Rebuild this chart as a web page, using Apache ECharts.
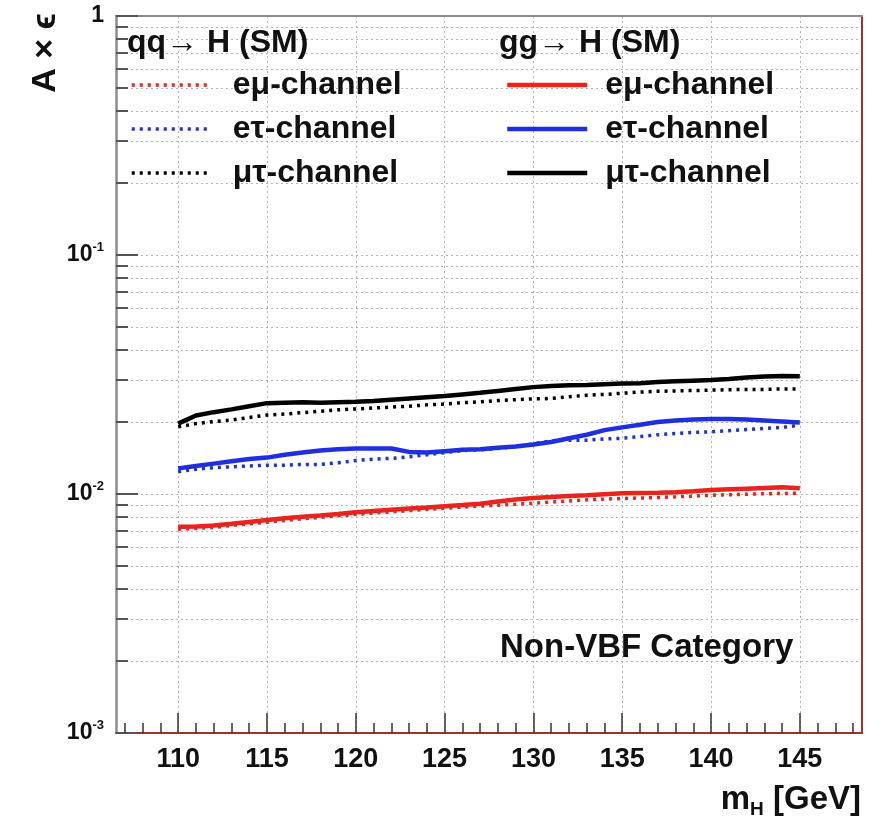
<!DOCTYPE html>
<html>
<head>
<meta charset="utf-8">
<script src="https://cdn.jsdelivr.net/npm/echarts@6/dist/echarts.min.js"></script>
<style>
  html, body { margin: 0; padding: 0; background: #ffffff; }
  #chart { width: 880px; height: 822px; }
</style>
</head>
<body>
<div id="chart"></div>
<script>
// Higgs mass points (GeV)
const massPoints = [110, 111, 112, 113, 114, 115, 116, 117, 118, 119,
                    120, 121, 122, 123, 124, 125, 126, 127, 128, 129,
                    130, 131, 132, 133, 134, 135, 136, 137, 138, 139,
                    140, 141, 142, 143, 144, 145];

// Acceptance x efficiency, qq -> H (SM)
const qqEMu = [0.00712, 0.00718, 0.00725, 0.00738, 0.00750, 0.00762, 0.00775, 0.00787, 0.00798, 0.00810,
               0.00822, 0.00832, 0.00842, 0.00852, 0.00862, 0.00872, 0.00882, 0.00890, 0.00898, 0.00906,
               0.00914, 0.00925, 0.00935, 0.00945, 0.00952, 0.00958, 0.00962, 0.00967, 0.00973, 0.00980,
               0.00988, 0.00993, 0.00998, 0.01002, 0.01005, 0.01007];
const qqETau = [0.0124, 0.0127, 0.0129, 0.0130, 0.0131, 0.0132, 0.0132, 0.0133, 0.0133, 0.0135,
                0.0138, 0.0140, 0.0141, 0.0143, 0.0146, 0.0149, 0.0152, 0.0153, 0.0155, 0.0158,
                0.0162, 0.0167, 0.0168, 0.0168, 0.0170, 0.0171, 0.0174, 0.0177, 0.0179, 0.0181,
                0.0182, 0.0184, 0.0186, 0.0188, 0.0190, 0.0194];
const qqMuTau = [0.0191, 0.0197, 0.0201, 0.0204, 0.0209, 0.0214, 0.0216, 0.0219, 0.0222, 0.0225,
                 0.0227, 0.0229, 0.0231, 0.0233, 0.0236, 0.0238, 0.0241, 0.0243, 0.0246, 0.0248,
                 0.0250, 0.0251, 0.0255, 0.0259, 0.0261, 0.0264, 0.0267, 0.0269, 0.0270, 0.0271,
                 0.0272, 0.0273, 0.0274, 0.0274, 0.0275, 0.0275];

// Acceptance x efficiency, gg -> H (SM)
const ggEMu = [0.00730, 0.00732, 0.00738, 0.00750, 0.00764, 0.00778, 0.00791, 0.00804, 0.00813, 0.00825,
               0.00838, 0.00849, 0.00860, 0.00869, 0.00878, 0.00889, 0.00899, 0.00910, 0.00930, 0.00948,
               0.00963, 0.00972, 0.00980, 0.00988, 0.00998, 0.01007, 0.01010, 0.01012, 0.01018, 0.01028,
               0.01039, 0.01046, 0.01053, 0.01060, 0.01066, 0.01058];
const ggETau = [0.0128, 0.0131, 0.0134, 0.0137, 0.0140, 0.0142, 0.0146, 0.0149, 0.0152, 0.0154,
                0.0155, 0.0155, 0.0155, 0.0150, 0.0149, 0.0151, 0.0153, 0.0154, 0.0156, 0.0158,
                0.0161, 0.0165, 0.0171, 0.0177, 0.0185, 0.0190, 0.0195, 0.0200, 0.0203, 0.0205,
                0.0206, 0.0206, 0.0205, 0.0203, 0.0201, 0.0199];
const ggMuTau = [0.0197, 0.0213, 0.0220, 0.0226, 0.0233, 0.0240, 0.0241, 0.0242, 0.0241, 0.0242,
                 0.0243, 0.0245, 0.0248, 0.0251, 0.0254, 0.0257, 0.0261, 0.0265, 0.0270, 0.0275,
                 0.0280, 0.0283, 0.0285, 0.0286, 0.0288, 0.0290, 0.0291, 0.0294, 0.0296, 0.0298,
                 0.0300, 0.0303, 0.0307, 0.0310, 0.0312, 0.0311];

// Axis ticks
const xMajorTicks = [110, 115, 120, 125, 130, 135, 140, 145];
const xMinorTicks = [107, 108, 109, 110, 111, 112, 113, 114, 115, 116, 117, 118, 119, 120, 121, 122, 123, 124,
                     125, 126, 127, 128, 129, 130, 131, 132, 133, 134, 135, 136, 137, 138, 139, 140, 141, 142,
                     143, 144, 145, 146, 147, 148];
const yMinorTicks = [0.002, 0.003, 0.004, 0.005, 0.006, 0.007, 0.008, 0.009,
                     0.02, 0.03, 0.04, 0.05, 0.06, 0.07, 0.08, 0.09,
                     0.2, 0.3, 0.4, 0.5, 0.6, 0.7, 0.8, 0.9];

const channelLabels = ['eμ-channel', 'eτ-channel', 'μτ-channel'];
const headerLabels = ['qq\u2192 H (SM)', 'gg\u2192 H (SM)'];

const FONT = '"Liberation Sans", Arial, Helvetica, sans-serif';
const RED = '#e8241c', BLUE = '#1f2fe0', BLACK = '#000000';
const gridDots = { color: '#b4b4b4', width: 1, type: [2, 3] };

const pairs = arr => massPoints.map((m, i) => [m, arr[i]]);

function makeSeries(prefix, label, values, color, dotted) {
  return {
    name: prefix + ' ' + label,
    type: 'line',
    data: pairs(values),
    xAxisIndex: 0,
    yAxisIndex: 0,
    symbol: 'none',
    showSymbol: false,
    smooth: false,
    z: dotted ? 3 : 4,
    lineStyle: dotted
      ? { color: color, width: 3.5, type: [3, 5] }
      : { color: color, width: 4.5, type: 'solid' },
    itemStyle: { color: color }
  };
}

const series = [
  makeSeries('qq', channelLabels[0], qqEMu, RED, true),
  makeSeries('qq', channelLabels[1], qqETau, BLUE, true),
  makeSeries('qq', channelLabels[2], qqMuTau, BLACK, true),
  makeSeries('gg', channelLabels[0], ggEMu, RED, false),
  makeSeries('gg', channelLabels[1], ggETau, BLUE, false),
  makeSeries('gg', channelLabels[2], ggMuTau, BLACK, false)
];

const legendText = { fontSize: 32, fontWeight: 'bold', color: '#111', fontFamily: FONT, lineHeight: 30 };

function legendBlock(prefix, left, textPad, lineWidth) {
  return {
    orient: 'vertical',
    left: left,
    top: 69,
    itemWidth: 80,
    itemHeight: 14,
    itemGap: 12,
    padding: 0,
    selectedMode: false,
    data: channelLabels.map(c => prefix + ' ' + c),
    formatter: name => name.slice(prefix.length + 1),
    itemStyle: { opacity: 0 },
    lineStyle: { width: lineWidth },
    textStyle: Object.assign({ padding: [0, 0, 0, textPad] }, legendText)
  };
}

const chart = echarts.init(document.getElementById('chart'), null, { renderer: 'canvas' });

chart.setOption({
  backgroundColor: '#ffffff',
  animation: false,
  grid: { left: 116, right: 18, top: 16, bottom: 89, outerBoundsMode: 'none', containLabel: false },
  xAxis: [
    {
      type: 'value', min: 106.5, max: 148.5, position: 'bottom',
      axisLine: { show: true, lineStyle: { color: '#a8302c', width: 2 } },
      axisTick: { show: true, inside: true, length: 20, customValues: xMajorTicks,
                  lineStyle: { color: '#333', width: 1.5 } },
      axisLabel: { show: true, customValues: xMajorTicks, margin: 13, fontSize: 27,
                   fontWeight: 'bold', color: '#111', fontFamily: FONT },
      splitLine: { show: true, lineStyle: gridDots }
    },
    {
      type: 'value', min: 106.5, max: 148.5, position: 'bottom',
      axisLine: { show: false },
      axisTick: { show: true, inside: true, length: 10, customValues: xMinorTicks,
                  lineStyle: { color: '#333', width: 1.5 } },
      axisLabel: { show: false },
      splitLine: { show: false }
    },
    {
      type: 'value', min: 106.5, max: 148.5, position: 'top',
      axisLine: { show: true, lineStyle: { color: '#8c8c8c', width: 2 } },
      axisTick: { show: false }, axisLabel: { show: false }, splitLine: { show: false }
    }
  ],
  yAxis: [
    {
      type: 'log', logBase: 10, min: 0.001, max: 1, position: 'left',
      axisLine: { show: true, lineStyle: { color: '#8c8c8c', width: 2.5 } },
      axisTick: { show: true, inside: true, length: 22, lineStyle: { color: '#555', width: 2 } },
      axisLabel: {
        show: true, margin: 12, fontFamily: FONT,
        formatter: v => {
          const n = Math.round(-Math.log10(v));
          return n === 0 ? '{b|1}' : '{b|10}{s|-' + n + '}';
        },
        rich: {
          b: { fontSize: 23, fontWeight: 'bold', color: '#111', fontFamily: FONT, lineHeight: 28 },
          s: { fontSize: 13, fontWeight: 'bold', color: '#111', fontFamily: FONT, verticalAlign: 'top', lineHeight: 14 }
        }
      },
      splitLine: { show: true, lineStyle: gridDots }
    },
    {
      type: 'log', logBase: 10, min: 0.001, max: 1, position: 'left',
      axisLine: { show: false },
      axisTick: { show: true, inside: true, length: 12, customValues: yMinorTicks,
                  lineStyle: { color: '#555', width: 2 } },
      axisLabel: { show: false },
      splitLine: { show: true, lineStyle: gridDots }
    },
    {
      type: 'log', logBase: 10, min: 0.001, max: 1, position: 'right',
      axisLine: { show: true, lineStyle: { color: '#a8302c', width: 2 } },
      axisTick: { show: false }, axisLabel: { show: false }, splitLine: { show: false }
    }
  ],
  legend: [
    legendBlock('qq', 130, 16, 3.5),
    legendBlock('gg', 505, 13, 4.5)
  ],
  graphic: [
    {
      type: 'text', left: 127, top: 27, z: 10,
      style: { text: headerLabels[0], font: 'bold 32px ' + FONT, fill: '#111' }
    },
    {
      type: 'text', left: 499, top: 27, z: 10,
      style: { text: headerLabels[1], font: 'bold 32px ' + FONT, fill: '#111' }
    },
    {
      type: 'text', x: 46, y: 53, rotation: Math.PI / 2, z: 10,
      style: { text: 'A \u00d7 \u03f5', font: 'bold 34px ' + FONT, fill: '#111',
               align: 'center', verticalAlign: 'middle' }
    },
    {
      type: 'text', x: 500, y: 648, z: 10,
      style: { text: 'Non-VBF Category', font: 'bold 33px ' + FONT, fill: '#111',
               align: 'left', verticalAlign: 'middle' }
    },
    {
      type: 'text', x: 861, y: 800, z: 10,
      style: {
        text: '{m|m}{h|H}{m| [GeV]}', align: 'right', verticalAlign: 'middle',
        rich: {
          m: { font: 'bold 33px ' + FONT, fill: '#111', lineHeight: 38 },
          h: { font: 'bold 19px ' + FONT, fill: '#111', verticalAlign: 'bottom', lineHeight: 20 }
        }
      }
    }
  ],
  series: series
});
</script>
</body>
</html>
